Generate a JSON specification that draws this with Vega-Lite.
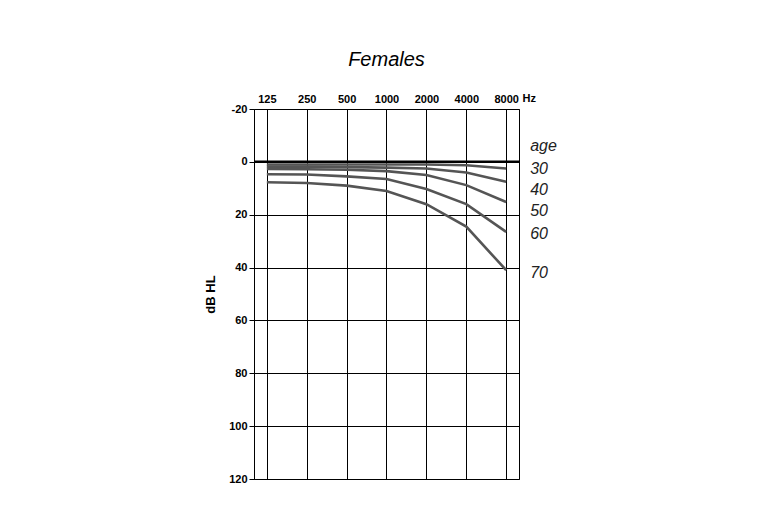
{
  "$schema": "https://vega.github.io/schema/vega-lite/v6.json",
  "autosize": "none",
  "width": 265,
  "height": 370,
  "padding": {"left": 254, "top": 109, "right": 239, "bottom": 50},
  "background": "white",
  "config": {
    "font": "Liberation Sans",
    "view": {"stroke": "black", "strokeWidth": 1}
  },
  "title": {
    "text": "Females",
    "fontSize": 20,
    "fontStyle": "italic",
    "fontWeight": "normal",
    "font": "Liberation Sans",
    "color": "black",
    "offset": 22,
    "anchor": "middle"
  },
  "datasets": {
    "curves": [
      {"age": "30", "freq": 125, "db": 1.0}, {"age": "30", "freq": 250, "db": 1.0}, {"age": "30", "freq": 500, "db": 1.0}, {"age": "30", "freq": 1000, "db": 1.0}, {"age": "30", "freq": 2000, "db": 1.0}, {"age": "30", "freq": 4000, "db": 1.3}, {"age": "30", "freq": 8000, "db": 2.5},
      {"age": "40", "freq": 125, "db": 1.8}, {"age": "40", "freq": 250, "db": 1.8}, {"age": "40", "freq": 500, "db": 2.0}, {"age": "40", "freq": 1000, "db": 2.2}, {"age": "40", "freq": 2000, "db": 2.5}, {"age": "40", "freq": 4000, "db": 4.0}, {"age": "40", "freq": 8000, "db": 7.5},
      {"age": "50", "freq": 125, "db": 2.7}, {"age": "50", "freq": 250, "db": 2.8}, {"age": "50", "freq": 500, "db": 3.0}, {"age": "50", "freq": 1000, "db": 3.5}, {"age": "50", "freq": 2000, "db": 5.0}, {"age": "50", "freq": 4000, "db": 8.8}, {"age": "50", "freq": 8000, "db": 15.2},
      {"age": "60", "freq": 125, "db": 4.7}, {"age": "60", "freq": 250, "db": 4.8}, {"age": "60", "freq": 500, "db": 5.5}, {"age": "60", "freq": 1000, "db": 6.5}, {"age": "60", "freq": 2000, "db": 10.3}, {"age": "60", "freq": 4000, "db": 16.0}, {"age": "60", "freq": 8000, "db": 26.5},
      {"age": "70", "freq": 125, "db": 7.7}, {"age": "70", "freq": 250, "db": 8.0}, {"age": "70", "freq": 500, "db": 9.0}, {"age": "70", "freq": 1000, "db": 11.0}, {"age": "70", "freq": 2000, "db": 16.0}, {"age": "70", "freq": 4000, "db": 24.5}, {"age": "70", "freq": 8000, "db": 41.0}
    ],
    "labels": [
      {"text": "age", "freq": 8000, "db": -6},
      {"text": "30", "freq": 8000, "db": 2.8},
      {"text": "40", "freq": 8000, "db": 10.7},
      {"text": "50", "freq": 8000, "db": 18.6},
      {"text": "60", "freq": 8000, "db": 27.4},
      {"text": "70", "freq": 8000, "db": 41.9}
    ]
  },
  "layer": [
    {
      "data": {"name": "curves"},
      "mark": {"type": "line", "color": "#555555", "strokeWidth": 2.6, "clip": false},
      "encoding": {
        "x": {
          "field": "freq", "type": "quantitative",
          "scale": {"type": "log", "base": 2, "domain": [100, 10000], "nice": false},
          "axis": {
            "orient": "top",
            "values": [125, 250, 500, 1000, 2000, 4000, 8000],
            "format": "d",
            "ticks": false,
            "domain": false,
            "grid": true,
            "gridColor": "black",
            "gridOpacity": 1,
            "gridWidth": 1,
            "labelFont": "Liberation Sans",
            "labelFontSize": 11,
            "labelFontWeight": "bold",
            "labelColor": "black",
            "labelPadding": 5,
            "labelFlush": false,
            "labelOverlap": false,
            "title": "Hz",
            "titleFont": "Liberation Sans",
            "titleFontSize": 11,
            "titleFontWeight": "bold",
            "titleColor": "black",
            "titleX": 268,
            "titleY": -11,
            "titleAlign": "left",
            "titleBaseline": "middle",
            "titleAngle": 0
          }
        },
        "y": {
          "field": "db", "type": "quantitative",
          "scale": {"domain": [-20, 120], "reverse": true, "nice": false, "zero": false},
          "axis": {
            "orient": "left",
            "values": [-20, -10, 0, 10, 20, 30, 40, 50, 60, 70, 80, 90, 100, 110, 120],
            "labelExpr": "datum.value % 20 === 0 ? '' + datum.value : ''",
            "grid": true,
            "gridColor": "black",
            "gridWidth": 1,
            "gridOpacity": {"condition": {"test": "datum.value % 20 === 0", "value": 1}, "value": 0},
            "domainColor": "black",
            "domainWidth": 1,
            "tickColor": "black",
            "tickSize": 5,
            "tickWidth": 1,
            "labelFont": "Liberation Sans",
            "labelFontSize": 11,
            "labelFontWeight": "bold",
            "labelColor": "black",
            "labelPadding": 2,
            "labelOverlap": false,
            "labelFlush": false,
            "title": "dB HL",
            "titleFont": "Liberation Sans",
            "titleFontSize": 13,
            "titleFontWeight": "bold",
            "titleColor": "black",
            "titlePadding": 11
          }
        },
        "detail": {"field": "age", "type": "nominal"}
      }
    },
    {
      "data": {"values": [{"db": 0}]},
      "mark": {"type": "rule", "color": "black", "strokeWidth": 2.5},
      "encoding": {
        "y": {"field": "db", "type": "quantitative"}
      }
    },
    {
      "data": {"name": "labels"},
      "mark": {"type": "text", "align": "left", "baseline": "middle", "dx": 24, "fontSize": 16, "fontStyle": "italic", "font": "Liberation Sans", "color": "#222222", "clip": false},
      "encoding": {
        "x": {"field": "freq", "type": "quantitative"},
        "y": {"field": "db", "type": "quantitative"},
        "text": {"field": "text", "type": "nominal"}
      }
    }
  ]
}
